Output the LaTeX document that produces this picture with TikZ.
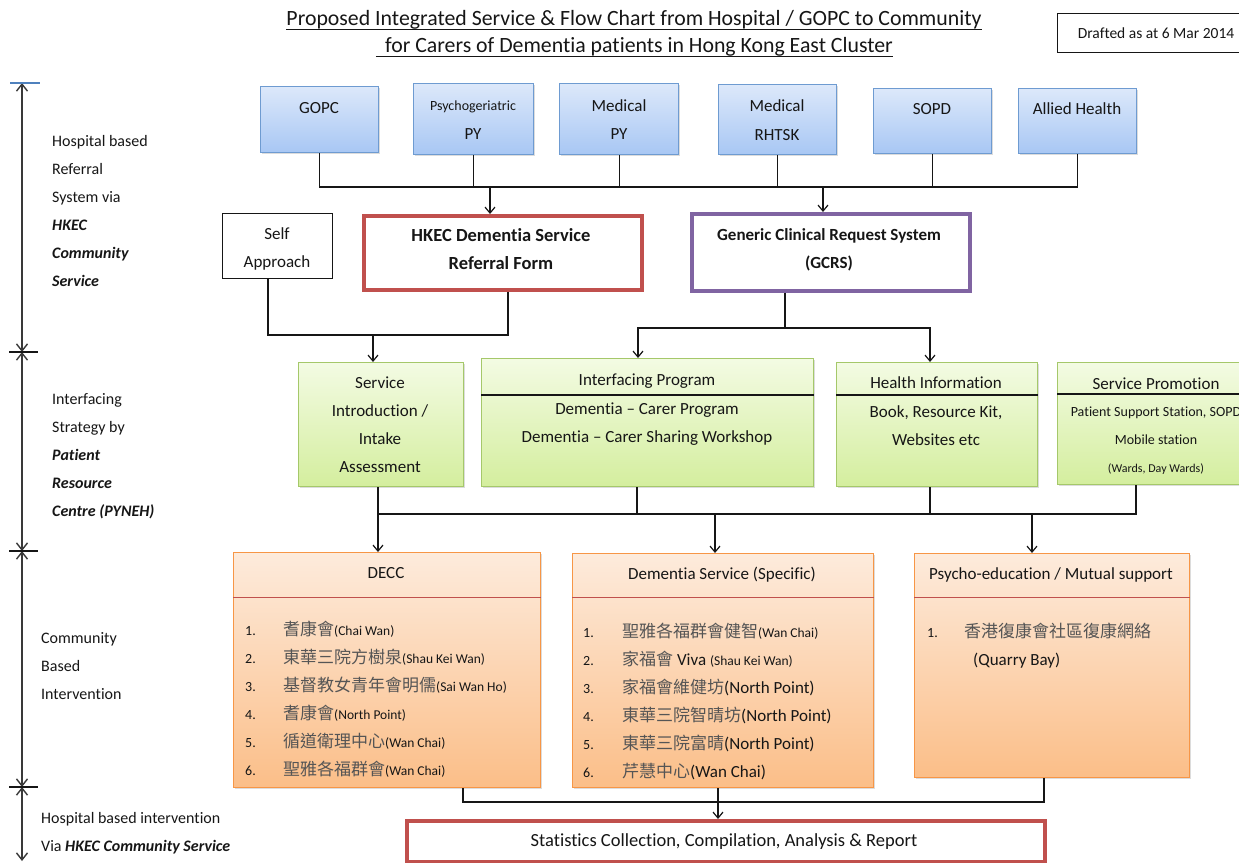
\documentclass[tikz,border=0pt]{standalone}
\usepackage{fontspec}
\setmainfont{Carlito}[Ligatures={TeX,NoCommon}]
\newfontfamily\cjk{Noto Sans CJK TC}
\usetikzlibrary{arrows.meta,shadows}
\definecolor{txt}{HTML}{161616}
\definecolor{bluetop}{HTML}{DCE8FA}
\definecolor{bluebot}{HTML}{A8C7F4}
\definecolor{blueedge}{HTML}{6E9BD1}
\definecolor{greentop}{HTML}{F3FBE3}
\definecolor{greenbot}{HTML}{D4EE9E}
\definecolor{greenedge}{HTML}{A5C86A}
\definecolor{orangetop}{HTML}{FDEBDC}
\definecolor{orangebot}{HTML}{FBBE88}
\definecolor{orangeedge}{HTML}{F79646}
\definecolor{rededge}{HTML}{C0504D}
\definecolor{purpleedge}{HTML}{8064A2}
\definecolor{cjkgray}{HTML}{555555}
\definecolor{tickblue}{HTML}{4F81BD}
\newcommand\itemno[2]{\makebox[#1][l]{\fontsize{14}{20}\selectfont #2}}
\newcommand\smtx[1]{{\fontsize{13.5}{20}\selectfont #1}}
\newcommand\cj[1]{{\cjk\color{cjkgray}#1}}
\newcommand\bi[1]{\textbf{\textit{#1}}}
\begin{document}
\begin{tikzpicture}[x=1pt,y=-1pt,
  box/.style={rectangle, anchor=north west, inner sep=0pt},
  shad/.style={drop shadow={opacity=0.28, shadow xshift=1.8pt, shadow yshift=-1.8pt}},
  bluebox/.style={box, shad, draw=blueedge, line width=1.2pt, top color=bluetop, bottom color=bluebot},
  greenbox/.style={box, shad, draw=greenedge, line width=1.2pt, top color=greentop, bottom color=greenbot},
  orangebox/.style={box, shad, draw=orangeedge, line width=1.2pt, top color=orangetop, bottom color=orangebot},
  redbox/.style={box, shad, draw=rededge, line width=4pt, fill=white},
  purplebox/.style={box, draw=purpleedge, line width=3.5pt, fill=white},
  plainbox/.style={box, draw=txt, line width=1.2pt, fill=white},
  tx/.style={inner sep=0pt, text=txt, font=\fontsize{17}{28}\selectfont, anchor=base},
  mtx/.style={tx, text width=#1, align=flush center},
  lab/.style={inner sep=0pt, text=txt, font=\fontsize{16}{28}\selectfont, anchor=base west, text width=240pt, align=flush left},
  lst/.style={inner sep=0pt, text=txt, font=\fontsize{17}{28.1}\selectfont, anchor=base west, text width=320pt, align=flush left},
  ln/.style={draw=txt, line width=1.2pt},
  arr/.style={ln, -{Straight Barb[length=6pt,width=10pt]}},
  axarr/.style={draw=txt!85, line width=1.4pt, >={Straight Barb[length=7pt,width=11pt]}, <->},
  divr/.style={draw=txt, line width=1.1pt},
  divo/.style={draw=rededge, line width=1pt}
]
\useasboundingbox (0,0) rectangle (1239,862);
\clip (0,0) rectangle (1239,862);

% ---------- title ----------
\node[tx, font=\fontsize{21.8}{26}\selectfont] (title1) at (634,25) {Proposed Integrated Service \& Flow Chart from Hospital / GOPC to Community};
\node[tx, font=\fontsize{21.8}{26}\selectfont] (title2) at (639,52) {for Carers of Dementia patients in Hong Kong East Cluster};
\draw[line width=1.3pt, txt] ([yshift=-4.5pt]title1.base west) -- ([yshift=-4.5pt]title1.base east);
\draw[line width=1.3pt, txt] ([yshift=-4.5pt,xshift=-9pt]title2.base west) -- ([yshift=-4.5pt]title2.base east);
\node[plainbox, minimum width=195pt, minimum height=39pt] (draft) at (1057,13) {};
\node[tx, font=\fontsize{15.5}{18}\selectfont] (draftt) at (1156,38) {Drafted as at 6 Mar 2014};

% ---------- left axis ----------
\coordinate (ax0) at (22,83);
\coordinate (ax1) at (22,352);
\coordinate (ax2) at (22,551);
\coordinate (ax3) at (22,787);
\coordinate (ax4) at (22,861);
\draw[axarr] (ax0) -- (ax1);
\draw[axarr] (ax1) -- (ax2);
\draw[axarr] (ax2) -- (ax3);
\draw[axarr] (ax3) -- (ax4);
\draw[draw=tickblue, line width=1.2pt] ([xshift=-12pt]ax0) -- ([xshift=18pt]ax0);
\draw[draw=txt, line width=1.2pt] ([xshift=-13pt]ax1) -- ([xshift=16pt]ax1);
\draw[draw=txt, line width=1.2pt] ([xshift=-13pt]ax2) -- ([xshift=16pt]ax2);
\draw[draw=txt, line width=1.2pt] ([xshift=-13pt]ax3) -- ([xshift=16pt]ax3);

\node[lab] (lab1) at (52,146) {Hospital based\\Referral\\System via\\\bi{HKEC}\\\bi{Community}\\\bi{Service}};
\node[lab] (lab2) at (52,404) {Interfacing\\Strategy by\\\bi{Patient}\\\bi{Resource}\\\bi{Centre (PYNEH)}};
\node[lab] (lab3) at (41,643) {Community\\Based\\Intervention};
\node[lab] (lab4) at (41,823) {Hospital based intervention\\Via \bi{HKEC Community Service}};

% ---------- top blue boxes ----------
\node[bluebox, minimum width=118pt, minimum height=66pt] (gopc) at (260,86) {};
\node[bluebox, minimum width=120pt, minimum height=71pt] (psy) at (413,83) {};
\node[bluebox, minimum width=119pt, minimum height=71pt] (medpy) at (559,83) {};
\node[bluebox, minimum width=118pt, minimum height=70pt] (rhtsk) at (718,84) {};
\node[bluebox, minimum width=118pt, minimum height=65pt] (sopd) at (873,88) {};
\node[bluebox, minimum width=118pt, minimum height=65pt] (allied) at (1018,88) {};
\node[tx] (gopct) at (319,113) {GOPC};
\node[tx, font=\fontsize{14}{16}\selectfont] (psyt1) at (473,110) {Psychogeriatric};
\node[tx] (psyt2) at (473,139) {PY};
\node[tx] (medpyt1) at (619,111) {Medical};
\node[tx] (medpyt2) at (619,139) {PY};
\node[tx] (rhtskt1) at (777,111) {Medical};
\node[tx] (rhtskt2) at (777,140) {RHTSK};
\node[tx] (sopdt) at (932,114) {SOPD};
\node[tx] (alliedt) at (1077,114) {Allied Health};

% ---------- referral row ----------
\node[plainbox, minimum width=110pt, minimum height=65pt] (self) at (222,213) {};
\node[mtx=100pt] (selft) at (277,239) {Self\\Approach};
\node[redbox, minimum width=278pt, minimum height=74pt] (form) at (362,214) {};
\node[mtx=270pt, font=\fontsize{18.5}{28}\selectfont\bfseries] (formt) at (501,241) {HKEC Dementia Service\\Referral Form};
\node[purplebox, minimum width=278pt, minimum height=77pt] (gcrs) at (690,212) {};
\node[mtx=270pt, font=\fontsize{17}{28}\selectfont\bfseries] (gcrst) at (829,240) {Generic Clinical Request System\\(GCRS)};

% ---------- green row ----------
\node[greenbox, minimum width=165pt, minimum height=124pt] (intro) at (298,362) {};
\node[mtx=160pt] (introt) at (380,388) {Service\\Introduction /\\Intake\\Assessment};
\node[greenbox, minimum width=332pt, minimum height=128pt] (inter) at (481,358) {};
\draw[divr] (inter.west |- 0,395) -- (inter.east |- 0,395);
\node[tx] (intert1) at (647,385) {Interfacing Program};
\node[mtx=320pt] (intert2) at (647,414) {Dementia -- Carer Program\\Dementia -- Carer Sharing Workshop};
\node[greenbox, minimum width=201pt, minimum height=124pt] (health) at (836,362) {};
\draw[divr] (health.west |- 0,395) -- (health.east |- 0,395);
\node[tx] (healtht1) at (936,388) {Health Information};
\node[mtx=195pt] (healtht2) at (936,417) {Book, Resource Kit,\\Websites etc};
\node[greenbox, minimum width=198pt, minimum height=122pt] (promo) at (1057,362) {};
\draw[divr] (promo.west |- 0,394) -- (promo.east |- 0,394);
\node[tx] (promot1) at (1156,389) {Service Promotion};
\node[tx, font=\fontsize{14}{16}\selectfont] (promot2) at (1156,416) {Patient Support Station, SOPD};
\node[tx, font=\fontsize{14}{16}\selectfont] (promot3) at (1156,444) {Mobile station};
\node[tx, font=\fontsize{12}{14}\selectfont] (promot4) at (1156,472) {(Wards, Day Wards)};

% ---------- orange row ----------
\node[orangebox, minimum width=307pt, minimum height=235pt] (decc) at (233,552) {};
\draw[divo] (decc.west |- 0,597) -- (decc.east |- 0,597);
\node[tx] (decct) at (386,578) {DECC};
\node[lst] (deccl) at (245,635) {%
\itemno{38pt}{1.}\cj{耆康會}\smtx{(Chai Wan)}\\
\itemno{38pt}{2.}\cj{東華三院方樹泉}\smtx{(Shau Kei Wan)}\\
\itemno{38pt}{3.}\cj{基督教女青年會明儒}\smtx{(Sai Wan Ho)}\\
\itemno{38pt}{4.}\cj{耆康會}\smtx{(North Point)}\\
\itemno{38pt}{5.}\cj{循道衛理中心}\smtx{(Wan Chai)}\\
\itemno{38pt}{6.}\cj{聖雅各福群會}\smtx{(Wan Chai)}};

\node[orangebox, minimum width=301pt, minimum height=234pt] (ds) at (572,553) {};
\draw[divo] (ds.west |- 0,597) -- (ds.east |- 0,597);
\node[tx] (dst) at (722,579) {Dementia Service (Specific)};
\node[lst] (dsl) at (583,637) {%
\itemno{39pt}{1.}\cj{聖雅各福群會健智}\smtx{(Wan Chai)}\\
\itemno{39pt}{2.}\cj{家福會} Viva \smtx{(Shau Kei Wan)}\\
\itemno{39pt}{3.}\cj{家福會維健坊}(North Point)\\
\itemno{39pt}{4.}\cj{東華三院智晴坊}(North Point)\\
\itemno{39pt}{5.}\cj{東華三院富晴}(North Point)\\
\itemno{39pt}{6.}\cj{芹慧中心}(Wan Chai)};

\node[orangebox, minimum width=275pt, minimum height=224pt] (pe) at (914,553) {};
\draw[divo] (pe.west |- 0,597) -- (pe.east |- 0,597);
\node[tx] (pet) at (1051,579) {Psycho-education / Mutual support};
\node[lst] (pel) at (927,637) {%
\itemno{37pt}{1.}\cj{香港復康會社區復康網絡}\\
\hspace*{46pt}(Quarry Bay)};

% ---------- stats ----------
\node[redbox, minimum width=638pt, minimum height=41pt] (stats) at (405,819) {};
\node[tx, font=\fontsize{18.5}{22}\selectfont] (statst) at (724,846) {Statistics Collection, Compilation, Analysis \& Report};

% ---------- connectors ----------
\coordinate (b1) at (0,187);
\draw[ln] (gopc.south) -- (gopc.south |- b1) -- (allied.south |- b1) -- (allied.south);
\foreach \n in {psy,medpy,rhtsk,sopd} \draw[ln] (\n.south) -- (\n.south |- b1);
\coordinate (a1) at (490,187);
\coordinate (a2) at (823,187);
\draw[arr] (a1) -- (a1 |- form.north);
\draw[arr] (a2) -- (a2 |- gcrs.north);

\coordinate (j1) at (268,335);
\coordinate (j2) at (508,335);
\coordinate (j3) at (373,335);
\draw[ln] (j1 |- self.south) -- (j1) -- (j2) -- (j2 |- form.south);
\draw[arr] (j3) -- (j3 |- intro.north);

\coordinate (g0) at (785,328);
\coordinate (g1) at (638,328);
\coordinate (g2) at (930,328);
\draw[ln] (g0 |- gcrs.south) -- (g0);
\draw[arr] (g0) -- (g1) -- (g1 |- inter.north);
\draw[arr] (g0) -- (g2) -- (g2 |- health.north);

\coordinate (k1) at (378,514);
\coordinate (k2) at (637,514);
\coordinate (k3) at (930,514);
\coordinate (k4) at (1136,514);
\coordinate (k5) at (715,514);
\coordinate (k6) at (1032,514);
\draw[ln] (k1 |- intro.south) -- (k1) -- (k4) -- (k4 |- promo.south);
\draw[ln] (k2 |- inter.south) -- (k2);
\draw[ln] (k3 |- health.south) -- (k3);
\draw[arr] (k1) -- (k1 |- decc.north);
\draw[arr] (k5) -- (k5 |- ds.north);
\draw[arr] (k6) -- (k6 |- pe.north);

\coordinate (m1) at (463,802);
\coordinate (m2) at (718,802);
\coordinate (m3) at (1044,802);
\draw[ln] (m1 |- decc.south) -- (m1) -- (m3) -- (m3 |- pe.south);
\draw[arr] (m2 |- ds.south) -- (m2 |- stats.north);
\end{tikzpicture}
\end{document}
